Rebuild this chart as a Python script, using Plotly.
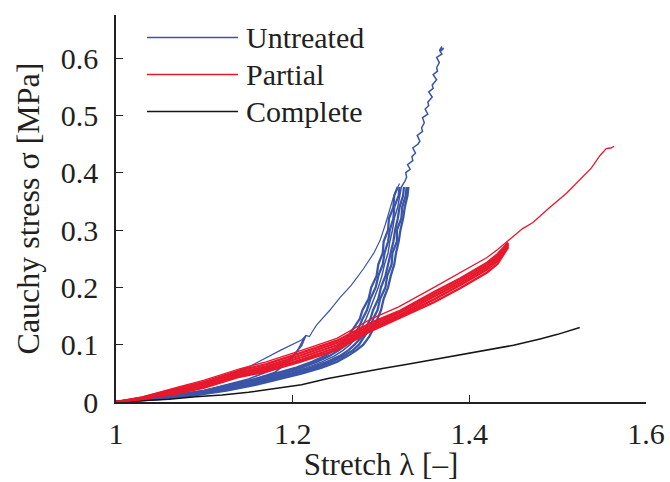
import plotly.graph_objects as go

# ---------------- data ----------------
# Untreated (blue): first loading curve (thin), to the knee and on to the 2nd level
UNT_VIRGIN_X = [1.00, 1.04, 1.08, 1.118, 1.15, 1.186, 1.20, 1.21, 1.215, 1.219, 1.222, 1.227,
                1.242, 1.254, 1.266, 1.28, 1.292, 1.299, 1.305, 1.31, 1.314, 1.318, 1.321]
UNT_VIRGIN_Y = [0.0, 0.010, 0.024, 0.044, 0.061, 0.090, 0.100, 0.108, 0.116, 0.114, 0.122, 0.134,
                0.160, 0.183, 0.203, 0.232, 0.260, 0.282, 0.310, 0.336, 0.357, 0.372, 0.381]

# small cycles up to the knee
UNT_KNEE1_X = [1.00, 1.05, 1.10, 1.15, 1.18, 1.20, 1.21, 1.215]
UNT_KNEE1_Y = [0.0, 0.008, 0.020, 0.040, 0.058, 0.080, 0.098, 0.116]
UNT_KNEE2_X = [1.00, 1.05, 1.10, 1.15, 1.18, 1.195, 1.205, 1.213]
UNT_KNEE2_Y = [0.0, 0.007, 0.018, 0.036, 0.052, 0.070, 0.088, 0.112]

# repeated cycles to the second level (dense band); stress levels shared by the cycles
UNT_BAND_Y = [0.0, 0.005, 0.01, 0.02, 0.03, 0.04, 0.05, 0.06, 0.07, 0.08, 0.09, 0.10, 0.115,
              0.13, 0.145, 0.16, 0.18, 0.20, 0.22, 0.24, 0.26, 0.28, 0.30, 0.32, 0.34, 0.36, 0.375]
UNT_C1_X = [1.0, 1.031, 1.058, 1.100, 1.129, 1.157, 1.181, 1.204, 1.222, 1.236, 1.246, 1.254, 1.263,
            1.270, 1.276, 1.279, 1.286, 1.289, 1.295, 1.297, 1.302, 1.303, 1.308, 1.309, 1.314, 1.315, 1.319]
UNT_C2_X = [1.0, 1.035, 1.063, 1.105, 1.135, 1.163, 1.187, 1.210, 1.227, 1.241, 1.252, 1.261, 1.268,
            1.275, 1.279, 1.284, 1.288, 1.294, 1.297, 1.302, 1.304, 1.308, 1.310, 1.314, 1.315, 1.320, 1.321]
UNT_C3_X = [1.0, 1.039, 1.067, 1.110, 1.141, 1.169, 1.193, 1.216, 1.233, 1.247, 1.257, 1.265, 1.273,
            1.278, 1.283, 1.287, 1.292, 1.297, 1.301, 1.304, 1.308, 1.310, 1.313, 1.315, 1.319, 1.321, 1.323]
UNT_C4_X = [1.0, 1.042, 1.072, 1.115, 1.146, 1.174, 1.199, 1.221, 1.239, 1.253, 1.263, 1.270, 1.279,
            1.283, 1.288, 1.291, 1.297, 1.300, 1.305, 1.308, 1.311, 1.314, 1.316, 1.319, 1.321, 1.325, 1.326]
UNT_C5_X = [1.0, 1.046, 1.076, 1.120, 1.152, 1.180, 1.205, 1.227, 1.244, 1.257, 1.268, 1.275, 1.282,
            1.288, 1.291, 1.296, 1.299, 1.305, 1.307, 1.312, 1.313, 1.318, 1.318, 1.323, 1.324, 1.328, 1.329]
UNT_C6_X = [1.0, 1.050, 1.081, 1.125, 1.158, 1.186, 1.211, 1.233, 1.250, 1.262, 1.272, 1.280, 1.287,
            1.292, 1.296, 1.300, 1.303, 1.308, 1.311, 1.315, 1.317, 1.320, 1.322, 1.325, 1.327, 1.330, 1.331]

# final loading beyond the band (noisy trace up to 0.62 MPa)
UNT_EXT_X = [1.327, 1.329, 1.328, 1.333, 1.330, 1.336, 1.335, 1.339, 1.336, 1.342, 1.344, 1.341,
             1.347, 1.346, 1.349, 1.347, 1.353, 1.350, 1.354, 1.353, 1.358, 1.354, 1.359, 1.358,
             1.363, 1.359, 1.364, 1.363, 1.366, 1.363, 1.369, 1.367, 1.371, 1.366, 1.369]
UNT_EXT_Y = [0.385, 0.392, 0.400, 0.406, 0.414, 0.421, 0.428, 0.434, 0.443, 0.450, 0.455, 0.465,
             0.472, 0.478, 0.487, 0.496, 0.502, 0.511, 0.517, 0.523, 0.532, 0.541, 0.547, 0.553,
             0.562, 0.571, 0.577, 0.583, 0.592, 0.601, 0.607, 0.611, 0.617, 0.613, 0.620]

# Partial (red)
PAR_X = [1.00, 1.03, 1.07, 1.10, 1.14, 1.17, 1.21, 1.25, 1.29, 1.32, 1.36, 1.39, 1.42, 1.432, 1.444]
PAR_FINAL_Y = [0.0, 0.009, 0.026, 0.038, 0.058, 0.070, 0.090, 0.111, 0.146, 0.166, 0.200, 0.226, 0.252, 0.266, 0.282]
PAR_C1_Y = [0.0, 0.008, 0.024, 0.035, 0.055, 0.066, 0.086, 0.107, 0.139, 0.158, 0.192, 0.216, 0.243, 0.258, 0.278]
PAR_C2_Y = [0.0, 0.007, 0.021, 0.032, 0.052, 0.062, 0.082, 0.103, 0.135, 0.155, 0.188, 0.212, 0.239, 0.254, 0.276]
PAR_C3_Y = [0.0, 0.006, 0.019, 0.029, 0.049, 0.059, 0.078, 0.099, 0.131, 0.151, 0.184, 0.208, 0.235, 0.250, 0.274]
PAR_C4_Y = [0.0, 0.006, 0.017, 0.027, 0.046, 0.056, 0.074, 0.095, 0.128, 0.148, 0.179, 0.204, 0.231, 0.246, 0.272]
PAR_C5_Y = [0.0, 0.005, 0.015, 0.025, 0.044, 0.053, 0.071, 0.091, 0.125, 0.146, 0.174, 0.199, 0.226, 0.241, 0.270]
PAR_EXT_X = [1.46, 1.472, 1.49, 1.51, 1.525, 1.538, 1.548, 1.555, 1.56, 1.564]
PAR_EXT_Y = [0.302, 0.313, 0.338, 0.364, 0.387, 0.408, 0.430, 0.442, 0.443, 0.446]

# Complete (black)
COM_X = [1.00, 1.03, 1.06, 1.09, 1.12, 1.15, 1.18, 1.21, 1.24, 1.27, 1.30, 1.33, 1.36, 1.39,
         1.42, 1.45, 1.48, 1.50, 1.525]
COM_Y = [0.0, 0.002, 0.005, 0.009, 0.012, 0.017, 0.023, 0.030, 0.041, 0.050, 0.058, 0.066, 0.074,
         0.082, 0.090, 0.099, 0.110, 0.118, 0.130]

SERIES_NAMES = ["Untreated", "Partial", "Complete"]
X_TICKS = [1.0, 1.2, 1.4, 1.6]
X_TICK_TEXT = ["1", "1.2", "1.4", "1.6"]
Y_TICKS = [0.0, 0.1, 0.2, 0.3, 0.4, 0.5, 0.6]
Y_TICK_TEXT = ["0", "0.1", "0.2", "0.3", "0.4", "0.5", "0.6"]

# ---------------- styling ----------------
BLUE = "#3b55a6"
RED = "#e8182c"
BLACK = "#151515"
FONT = "Liberation Serif"
TXT = "#231f20"

fig = go.Figure()

def add(x, y, color, width):
    fig.add_trace(go.Scatter(x=x, y=y, mode="lines", showlegend=False, hoverinfo="skip",
                             line=dict(color=color, width=width)))

add(UNT_KNEE1_X, UNT_KNEE1_Y, BLUE, 1.6)
add(UNT_KNEE2_X, UNT_KNEE2_Y, BLUE, 1.6)
for xs in [UNT_C1_X, UNT_C2_X, UNT_C4_X, UNT_C5_X, UNT_C6_X]:
    add(xs, UNT_BAND_Y, BLUE, 2.3)
add(UNT_C3_X + UNT_EXT_X, UNT_BAND_Y + UNT_EXT_Y, BLUE, 1.5)
add(UNT_VIRGIN_X, UNT_VIRGIN_Y, BLUE, 1.2)

add(COM_X, COM_Y, BLACK, 1.5)

for ys in [PAR_C5_Y, PAR_C4_Y, PAR_C3_Y, PAR_C2_Y, PAR_C1_Y]:
    add(PAR_X, ys, RED, 2.3)
add(PAR_X + PAR_EXT_X, PAR_FINAL_Y + PAR_EXT_Y, RED, 1.3)

# legend drawn as long line samples with text, like the reference
L, R = 116, 646
T, B = 15, 401.7
pw, ph = R - L, B - T
for i, (name, col) in enumerate(zip(SERIES_NAMES, [BLUE, RED, BLACK])):
    yy = (B - (37.5 + 37 * i)) / ph
    fig.add_shape(type="line", xref="paper", yref="paper",
                  x0=(147 - L) / pw, x1=(238 - L) / pw, y0=yy, y1=yy,
                  line=dict(color=col, width=1.5))
    fig.add_annotation(xref="paper", yref="paper", x=(244 - L) / pw, y=yy,
                       xanchor="left", yanchor="middle", text=name, showarrow=False,
                       font=dict(family=FONT, size=30, color=TXT))

axis_common = dict(showgrid=False, zeroline=False, showline=True, linecolor="#222",
                   linewidth=1.5, ticks="inside", ticklen=7, tickwidth=1.3, tickcolor="#222",
                   mirror=False, automargin=False, tickfont=dict(family=FONT, size=30, color=TXT))

fig.update_layout(
    template="none",
    width=670, height=482,
    margin=dict(l=L, r=670 - R, t=T, b=482 - B, autoexpand=False),
    plot_bgcolor="white", paper_bgcolor="white",
    xaxis=dict(range=[1.0, 1.6], tickvals=X_TICKS, ticktext=X_TICK_TEXT,
               ticklabelstandoff=4,
               title=dict(text="Stretch λ [–]", font=dict(family=FONT, size=31, color=TXT),
                          standoff=6),
               **axis_common),
    yaxis=dict(range=[0.0, 0.675], tickvals=Y_TICKS, ticktext=Y_TICK_TEXT,
               ticklabelstandoff=10,
               title=dict(text="Cauchy stress σ [MPa]", font=dict(family=FONT, size=32, color=TXT),
                          standoff=12),
               **axis_common),
    showlegend=False,
)

fig.write_html("out.html")
